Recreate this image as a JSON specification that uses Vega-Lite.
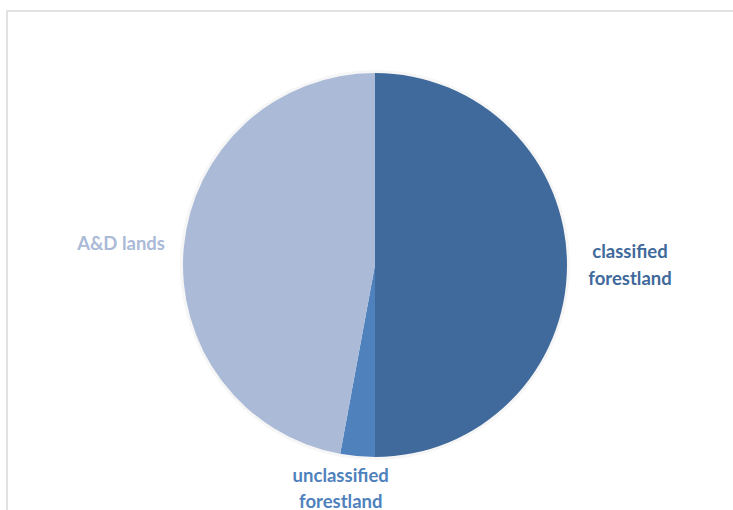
{
  "$schema": "https://vega.github.io/schema/vega-lite/v6.json",
  "width": 736,
  "height": 508,
  "autosize": "none",
  "padding": {"left": 7, "top": 11, "right": 0, "bottom": 0},
  "background": "white",
  "view": {"stroke": "#d9d9d9", "strokeWidth": 1.5, "fill": "white"},
  "data": {
    "values": [
      {"category": "classified forestland", "label": ["classified", "forestland"], "share": 50.0},
      {"category": "unclassified forestland", "label": ["unclassified", "forestland"], "share": 2.9},
      {"category": "A&D lands", "label": ["A&D lands"], "share": 47.1}
    ]
  },
  "transform": [{"window": [{"op": "row_number", "as": "rank"}]}],
  "encoding": {
    "theta": {"field": "share", "type": "quantitative", "stack": true},
    "order": {"field": "rank", "type": "quantitative"},
    "color": {
      "field": "category",
      "type": "nominal",
      "legend": null,
      "scale": {
        "domain": ["classified forestland", "unclassified forestland", "A&D lands"],
        "range": ["#3F6A9B", "#4F81BD", "#AABAD7"]
      }
    }
  },
  "layer": [
    {
      "mark": {"type": "arc", "outerRadius": 195, "fill": "#000000", "fillOpacity": 0.035, "stroke": null}
    },
    {
      "mark": {"type": "arc", "outerRadius": 192, "stroke": null}
    },
    {
      "mark": {"type": "text", "radius": 255, "dy": -13, "font": "Lato", "fontWeight": "bold", "fontSize": 18.5, "lineHeight": 27, "align": "center", "baseline": "middle"},
      "encoding": {
        "text": {"condition": {"test": "datum.category !== 'classified forestland'", "value": ""}, "field": "label"}
      }
    },
    {
      "mark": {"type": "text", "radius": 255, "dy": 2, "font": "Lato", "fontWeight": "bold", "fontSize": 18.5, "lineHeight": 27, "align": "center", "baseline": "middle"},
      "encoding": {
        "text": {"condition": {"test": "datum.category !== 'A&D lands'", "value": ""}, "field": "label"}
      }
    },
    {
      "mark": {"type": "text", "radius": 212, "dx": -15, "font": "Lato", "fontWeight": "bold", "fontSize": 18.5, "lineHeight": 26, "align": "center", "baseline": "middle"},
      "encoding": {
        "text": {"condition": {"test": "datum.category !== 'unclassified forestland'", "value": ""}, "field": "label"}
      }
    }
  ]
}
